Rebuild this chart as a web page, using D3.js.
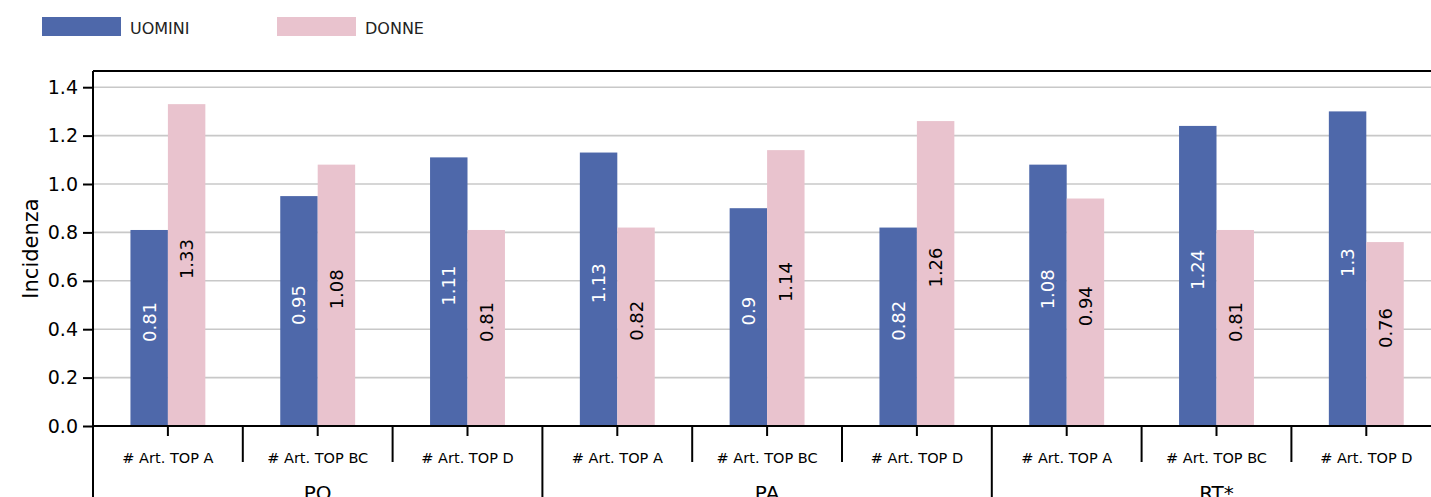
<!DOCTYPE html>
<html><head><meta charset="utf-8">
<script src="https://cdn.jsdelivr.net/npm/d3@7"></script>
<style>body{margin:0;background:#fff}svg{display:block}text{font-family:"DejaVu Sans",sans-serif}</style>
</head><body><svg id="c" width="1431" height="497"></svg>
<script>
const groups = ["PO","PA","RT*"];
const subcats = ["# Art. TOP A","# Art. TOP BC","# Art. TOP D"];
const series = ["UOMINI","DONNE"];
const uomini = [0.81,0.95,1.11,1.13,0.9,0.82,1.08,1.24,1.3];
const donne  = [1.33,1.08,0.81,0.82,1.14,1.26,0.94,0.81,0.76];
const yTicks = [0,0.2,0.4,0.6,0.8,1.0,1.2,1.4];
const colors = ["#4e68aa","#e9c3ce"];
const labelColors = ["#ffffff","#000000"];

const svg = d3.select("#c");
const L = 93, T = 71, B = 426, R = 93 + 149.8*9;
const keys = [];
groups.forEach(g => subcats.forEach(s => keys.push(g + "|" + s)));
const x = d3.scaleBand().domain(keys).range([L, R]).padding(0);
const bw = x.bandwidth();
const x1 = d3.scaleBand().domain(series).range([bw*0.25, bw*0.75]).padding(0);
const y = d3.scaleLinear().domain([0, 1.4 * (B - T) / (B - 87.2)]).range([B, T]);

// grid
svg.append("g").selectAll("line").data(yTicks).join("line")
  .attr("x1", L).attr("x2", R).attr("y1", d => y(d)).attr("y2", d => y(d))
  .attr("stroke", "#c8c8c8").attr("stroke-width", 1.6);

// bars
const data = [];
keys.forEach((k, i) => {
  data.push({k, s: 0, v: uomini[i]});
  data.push({k, s: 1, v: donne[i]});
});
svg.append("g").selectAll("rect").data(data).join("rect")
  .attr("x", d => x(d.k) + x1(series[d.s]))
  .attr("width", x1.bandwidth())
  .attr("y", d => y(d.v)).attr("height", d => y(0) - y(d.v))
  .attr("fill", d => colors[d.s]);

// labels
svg.append("g").selectAll("text").data(data).join("text")
  .attr("transform", d => `translate(${x(d.k) + x1(series[d.s]) + x1.bandwidth()/2},${(y(d.v) + y(0))/2 - 6}) rotate(-90)`)
  .attr("text-anchor", "middle").attr("dominant-baseline", "central")
  .attr("font-size", 18).attr("fill", d => labelColors[d.s])
  .text(d => String(d.v));

// frame
const frame = svg.append("g").attr("stroke", "#000").attr("stroke-width", 2).attr("fill", "none");
frame.append("line").attr("x1", L).attr("x2", R).attr("y1", T).attr("y2", T);
frame.append("line").attr("x1", L).attr("x2", R).attr("y1", B).attr("y2", B);
frame.append("line").attr("x1", L).attr("x2", L).attr("y1", T).attr("y2", B);

// y axis
const ya = svg.append("g").attr("transform", `translate(${L},0)`)
  .call(d3.axisLeft(y).tickValues(yTicks).tickFormat(d3.format(".1f")).tickSize(10).tickPadding(5));
ya.select(".domain").remove();
ya.selectAll("line").attr("stroke", "#000").attr("stroke-width", 2);
ya.selectAll("text").attr("font-size", 19).attr("fill", "#000").attr("font-family", "DejaVu Sans");

svg.append("text").attr("transform", `translate(38,${(T + B)/2}) rotate(-90)`)
  .attr("text-anchor", "middle").attr("font-size", 21).text("Incidenza");

// x axis: category ticks
const xa = svg.append("g").attr("transform", `translate(0,${B})`)
  .call(d3.axisBottom(x).tickSize(10).tickFormat(d => d.split("|")[1]).tickPadding(17));
xa.select(".domain").remove();
xa.selectAll("line").attr("stroke", "#000").attr("stroke-width", 2);
xa.selectAll("text").attr("font-size", 14.5).attr("fill", "#000").attr("font-family", "DejaVu Sans");

// separators
const sep = svg.append("g").attr("stroke", "#000").attr("stroke-width", 2);
keys.forEach((k, i) => {
  const xs = x(k);
  const isGroup = i % subcats.length === 0;
  sep.append("line").attr("x1", xs).attr("x2", xs).attr("y1", B).attr("y2", isGroup ? 497 : 462);
});
sep.append("line").attr("x1", R).attr("x2", R).attr("y1", B).attr("y2", 497);

// group labels
svg.append("g").selectAll("text").data(groups).join("text")
  .attr("x", (g, i) => x(keys[i*3]) + bw*1.5).attr("y", 500)
  .attr("text-anchor", "middle").attr("font-size", 20).text(g => g);

// legend
const leg = svg.append("g");
const legX = [42, 277];
series.forEach((s, i) => {
  leg.append("rect").attr("x", legX[i]).attr("y", 17).attr("width", 79).attr("height", 19).attr("fill", colors[i]);
  leg.append("text").attr("x", legX[i] + 88).attr("y", 34).attr("font-size", 16)
    .attr("font-family", "Open Sans, sans-serif").attr("fill", "#222").text(s);
});
</script></body></html>
